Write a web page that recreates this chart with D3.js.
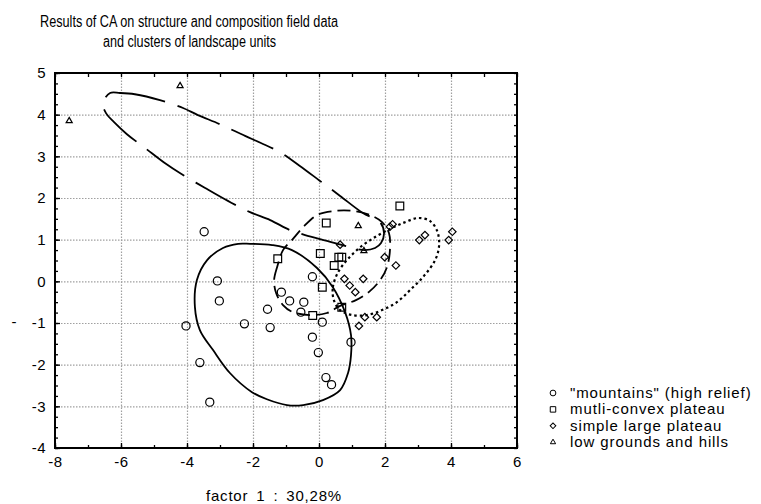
<!DOCTYPE html>
<meta charset="utf-8">

<head>
  <title>CA clusters</title>
</head>

<style>
  body { margin: 0; background: #fff; }
  text { font-family: Arial, "Liberation Sans", sans-serif; fill: #000; }
  .title { font-size: 16px; }
</style>

<body>
  <svg width="761" height="504"></svg>

  <script src="https://cdn.jsdelivr.net/npm/d3@7"></script>
  <script>
    // cluster points (factor 1, factor 2)
    var mountains = [
      [-3.48, 1.19], [-3.08, 0.01], [-3.02, -0.47], [-4.03, -1.07], [-2.26, -1.02],
      [-1.56, -0.67], [-1.48, -1.11], [-1.14, -0.26], [-0.89, -0.47], [-0.46, -0.50],
      [-0.55, -0.74], [-0.20, 0.11], [0.10, -0.98], [-0.20, -1.34], [-0.02, -1.71],
      [0.97, -1.46], [-3.61, -1.95], [-3.31, -2.90], [0.21, -2.31], [0.38, -2.48]
    ];
    var plateauConvex = [
      [2.45, 1.81], [0.22, 1.40], [0.04, 0.67], [0.60, 0.58], [0.69, 0.58],
      [0.46, 0.38], [-1.25, 0.54], [0.10, -0.14], [0.69, -0.62], [-0.19, -0.82]
    ];
    var plateauLarge = [
      [0.64, 0.88], [2.15, 1.31], [2.23, 1.37], [3.04, 0.99], [3.21, 1.11],
      [3.93, 0.99], [4.04, 1.19], [1.99, 0.58], [2.33, 0.38], [0.77, 0.06],
      [1.34, 0.06], [0.93, -0.10], [1.10, -0.26], [1.39, -0.86], [1.75, -0.86],
      [1.21, -1.07]
    ];
    var lowGrounds = [
      [-7.57, 3.85], [-4.21, 4.69], [1.19, 1.33], [1.36, 0.73]
    ];

    // cluster outlines
    var outlineMountains = [
      [-2.09, 0.90], [-1.42, 0.87], [-0.82, 0.75], [-0.06, 0.32], [0.42, -0.14],
      [0.79, -0.74], [0.97, -1.29], [0.97, -1.77], [0.88, -2.20], [0.64, -2.61],
      [0.12, -2.85], [-0.48, -2.97], [-0.97, -2.97], [-1.58, -2.83], [-2.03, -2.66],
      [-2.70, -2.20], [-3.21, -1.65], [-3.61, -1.17], [-3.76, -0.62], [-3.70, 0.03],
      [-3.39, 0.51], [-2.91, 0.80], [-2.45, 0.90]
    ];
    var outlineConvex = [
      [-1.09, 0.75], [-1.27, 0.34], [-1.36, 0.03], [-1.30, -0.28], [-1.09, -0.57],
      [-0.79, -0.74], [-0.27, -0.81], [0.24, -0.76], [0.64, -0.59], [1.12, -0.45],
      [1.55, -0.23], [1.88, 0.06], [2.06, 0.34], [2.15, 0.75], [2.12, 1.16],
      [1.91, 1.42], [1.55, 1.59], [1.03, 1.69], [0.48, 1.69], [-0.06, 1.59],
      [-0.48, 1.30], [-0.82, 0.99]
    ];
    var outlineLarge = [
      [0.45, -0.45], [0.42, -0.14], [0.58, 0.22], [0.88, 0.54], [1.30, 0.85],
      [1.76, 1.09], [2.21, 1.28], [2.61, 1.42], [3.00, 1.52], [3.36, 1.45],
      [3.58, 1.21], [3.64, 0.87], [3.52, 0.51], [3.18, 0.13], [2.76, -0.21],
      [2.36, -0.50], [1.91, -0.69], [1.45, -0.81], [1.00, -0.81], [0.64, -0.69]
    ];
    var outlineLow = [
      [-6.33, 4.52], [-6.03, 4.52], [-5.58, 4.49], [-4.82, 4.35], [-4.12, 4.16],
      [-3.67, 3.99], [-3.00, 3.77], [-2.24, 3.49], [-1.76, 3.32], [-1.18, 3.10],
      [-0.58, 2.77], [0.03, 2.41], [0.64, 2.05], [1.33, 1.64], [1.85, 1.42],
      [1.97, 1.16], [1.88, 0.92], [1.70, 0.80], [1.39, 0.75], [0.94, 0.82],
      [0.24, 0.97], [-0.42, 1.11], [-0.88, 1.23], [-1.48, 1.47], [-2.09, 1.66],
      [-2.76, 1.93], [-3.45, 2.24], [-4.18, 2.58], [-4.64, 2.82], [-5.27, 3.20],
      [-5.82, 3.53], [-6.21, 3.82], [-6.45, 4.03], [-6.55, 4.27]
    ];

    var xTicks = [-8, -6, -4, -2, 0, 2, 4, 6];
    var yTicks = [-4, -3, -2, -1, 0, 1, 2, 3, 4, 5];
    var legendLabels = ['"mountains" (high relief)', 'mutli-convex plateau', 'simple large plateau', 'low grounds and hills'];

    var x = d3.scaleLinear().domain([-8, 6]).range([55, 517]);
    var y = d3.scaleLinear().domain([-4, 5]).range([448, 73]);

    var svg = d3.select('svg');

    // title (squeezed to the narrow look of the original)
    svg.append('text').attr('class', 'title')
      .attr('x', 40).attr('y', 27)
      .attr('textLength', 298).attr('lengthAdjust', 'spacingAndGlyphs')
      .text('Results of CA on structure and composition field data');
    svg.append('text').attr('class', 'title')
      .attr('x', 103).attr('y', 47)
      .attr('textLength', 173).attr('lengthAdjust', 'spacingAndGlyphs')
      .text('and clusters of landscape units');

    // grid drawn with axis tick lines stretched across the plot
    svg.append('g')
      .attr('class', 'xgrid')
      .attr('transform', 'translate(0,' + y(-4) + ')')
      .call(d3.axisBottom(x).tickValues(xTicks.slice(1, -1)).tickFormat('')
        .tickSizeInner(-(y(-4) - y(5))).tickSizeOuter(0));
    svg.append('g')
      .attr('class', 'ygrid')
      .attr('transform', 'translate(' + x(-8) + ',0)')
      .call(d3.axisLeft(y).tickValues(yTicks.slice(1, -1)).tickFormat('')
        .tickSizeInner(-(x(6) - x(-8))).tickSizeOuter(0));
    svg.selectAll('.xgrid .domain, .ygrid .domain').remove();
    svg.selectAll('.xgrid line, .ygrid line')
      .attr('stroke', '#a0a0a0')
      .attr('stroke-width', 1.2)
      .attr('stroke-dasharray', '1.5,1.5');

    // axes with inward ticks on all sides
    var fmt = function (d) { return String(d); };
    var xMinor = d3.range(-8, 6.01, 1);
    var yMinor = d3.range(-4, 5.01, 0.25);

    var axes = svg.append('g').attr('class', 'axes');
    axes.append('g')
      .attr('transform', 'translate(0,' + y(-4) + ')')
      .call(d3.axisBottom(x).tickValues(xTicks).tickFormat(fmt).tickSizeInner(-5).tickSizeOuter(0).tickPadding(8))
      .call(g => g.selectAll('text').style('font-size', '15px').style('letter-spacing', '0.5px'));
    axes.append('g')
      .attr('transform', 'translate(0,' + y(-4) + ')')
      .call(d3.axisBottom(x).tickValues(xMinor).tickFormat('').tickSizeInner(-3).tickSizeOuter(0));
    axes.append('g')
      .attr('transform', 'translate(0,' + y(5) + ')')
      .call(d3.axisTop(x).tickValues(xMinor).tickFormat('').tickSizeInner(-4).tickSizeOuter(0));
    axes.append('g')
      .attr('transform', 'translate(' + x(-8) + ',0)')
      .call(d3.axisLeft(y).tickValues(yTicks).tickFormat(fmt).tickSizeInner(-5).tickSizeOuter(0).tickPadding(9))
      .call(g => g.selectAll('text').style('font-size', '15px').style('letter-spacing', '0.5px'));
    axes.append('g')
      .attr('transform', 'translate(' + x(-8) + ',0)')
      .call(d3.axisLeft(y).tickValues(yMinor).tickFormat('').tickSizeInner(-3).tickSizeOuter(0));
    axes.append('g')
      .attr('transform', 'translate(' + x(6) + ',0)')
      .call(d3.axisRight(y).tickValues(yMinor).tickFormat('').tickSizeInner(-3).tickSizeOuter(0));
    axes.selectAll('.domain').remove();
    axes.selectAll('.tick line').attr('stroke', '#000').attr('stroke-width', 1.3);

    svg.append('rect')
      .attr('x', x(-8)).attr('y', y(5))
      .attr('width', x(6) - x(-8)).attr('height', y(-4) - y(5))
      .attr('fill', 'none').attr('stroke', '#000').attr('stroke-width', 2);

    // axis titles
    svg.append('text')
      .attr('x', 274).attr('y', 501).attr('text-anchor', 'middle')
      .style('font-size', '15px').style('letter-spacing', '0.8px').style('word-spacing', '3px')
      .text('factor 1 : 30,28%');
    svg.append('text')
      .attr('x', 14).attr('y', 327).attr('text-anchor', 'middle')
      .style('font-size', '15px')
      .text('-');

    // outlines
    var line = d3.line()
      .x(d => x(d[0]))
      .y(d => y(d[1]))
      .curve(d3.curveCatmullRomClosed);

    var outlines = [
      { pts: outlineLow, dash: '46,13', w: 1.8 },
      { pts: outlineMountains, dash: null, w: 1.8 },
      { pts: outlineConvex, dash: '13,6', w: 1.8 },
      { pts: outlineLarge, dash: '2.5,3', w: 2.2 }
    ];
    svg.append('g')
      .selectAll('path')
      .data(outlines)
      .enter()
      .append('path')
      .attr('d', d => line(d.pts))
      .attr('fill', 'none')
      .attr('stroke', '#000')
      .attr('stroke-width', d => d.w)
      .attr('stroke-dasharray', d => d.dash);

    // markers: circle, square, diamond (rotated square), triangle
    var symbols = [d3.symbolCircle, d3.symbolSquare, d3.symbolSquare, d3.symbolTriangle];
    var rotations = [0, 0, 45, 0];
    var sizes = [52, 60, 28, 16];
    var groups = [mountains, plateauConvex, plateauLarge, lowGrounds];

    var marks = svg.append('g');
    groups.forEach(function (pts, i) {
      marks.append('g')
        .selectAll('path')
        .data(pts)
        .enter()
        .append('path')
        .attr('transform', d => 'translate(' + x(d[0]) + ',' + y(d[1]) + ') rotate(' + rotations[i] + ')')
        .attr('d', d3.symbol().type(symbols[i]).size(sizes[i]))
        .attr('fill', 'none')
        .attr('stroke', '#000')
        .attr('stroke-width', 1.2);
    });

    // legend
    var legend = svg.append('g').attr('transform', 'translate(553, 393)');
    var legendSizes = [26, 30, 16, 12];
    legendLabels.forEach(function (label, i) {
      var row = legend.append('g').attr('transform', 'translate(0,' + (i * 16.4) + ')');
      row.append('path')
        .attr('transform', 'rotate(' + rotations[i] + ')')
        .attr('d', d3.symbol().type(symbols[i]).size(legendSizes[i]))
        .attr('fill', 'none').attr('stroke', '#000').attr('stroke-width', 1);
      row.append('text')
        .attr('x', 17).attr('y', 5)
        .style('font-size', '15px').style('letter-spacing', '0.9px')
        .text(label);
    });
  </script>
</body>

</html>
